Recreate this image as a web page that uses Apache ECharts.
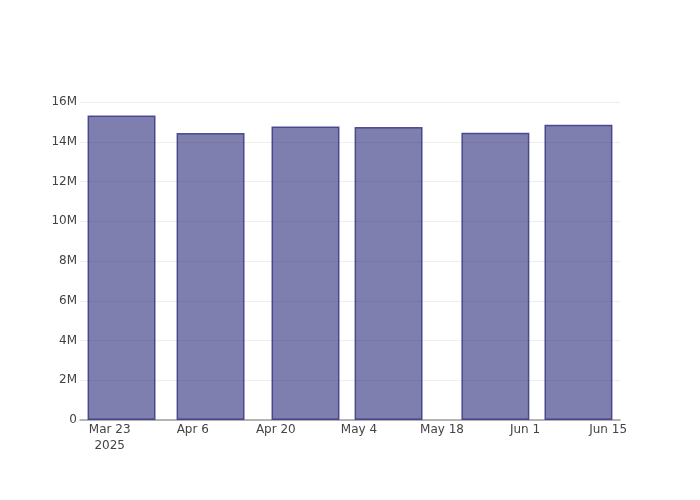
<!DOCTYPE html>
<html>
<head>
<meta charset="utf-8">
<script src="https://cdn.jsdelivr.net/npm/echarts@6/dist/echarts.min.js"></script>
<style>html,body{margin:0;padding:0;background:#fff}#c{width:700px;height:500px}</style>
</head>
<body>
<div id="c"></div>
<script>
// Data
const barDates = ['2025-03-25', '2025-04-09', '2025-04-25', '2025-05-09', '2025-05-27', '2025-06-10'];
const barValues = [15.32e6, 14.44e6, 14.77e6, 14.74e6, 14.45e6, 14.86e6];
const tickDates = ['2025-03-23', '2025-04-06', '2025-04-20', '2025-05-04', '2025-05-18', '2025-06-01', '2025-06-15'];
const yTicks = [0, 2e6, 4e6, 6e6, 8e6, 10e6, 12e6, 14e6, 16e6];

const DAY = 86400000;
const MONTHS = ['Jan','Feb','Mar','Apr','May','Jun','Jul','Aug','Sep','Oct','Nov','Dec'];
const toMs = s => Date.parse(s + 'T00:00:00Z');

const xs = barDates.map(toMs);
let minGap = Infinity;
for (let i = 1; i < xs.length; i++) minGap = Math.min(minGap, xs[i] - xs[i - 1]);
const xMin = xs[0] - minGap / 2;
const xMax = xs[xs.length - 1] + minGap / 2;
const tickMs = tickDates.map(toMs);

const gridLeft = 80, gridRight = 80, gridTop = 102, gridBottom = 80;
const gridW = 700 - gridLeft - gridRight;
const borderW = 1.5;
const barW = gridW * (0.8 * minGap) / (xMax - xMin) + borderW;

const font = 'DejaVu Sans, Verdana, sans-serif';

const chart = echarts.init(document.getElementById('c'), null, {renderer: 'canvas'});
chart.setOption({
  backgroundColor: '#fff',
  animation: false,
  grid: {left: gridLeft, right: gridRight, top: gridTop, bottom: gridBottom, containLabel: false},
  xAxis: {
    type: 'value',
    min: xMin,
    max: xMax,
    splitLine: {show: false},
    axisTick: {show: false, customValues: tickMs},
    axisLine: {show: true, onZero: false, lineStyle: {color: '#9e9e9e', width: 1.5}},
    axisLabel: {
      customValues: tickMs,
      color: '#444',
      fontFamily: font,
      fontSize: 12,
      margin: 2,
      lineHeight: 16,
      formatter: function (v) {
        const d = new Date(v);
        let s = MONTHS[d.getUTCMonth()] + ' ' + d.getUTCDate();
        if (v === tickMs[0]) s += '\n' + d.getUTCFullYear();
        return s;
      }
    }
  },
  yAxis: {
    type: 'value',
    min: yTicks[0],
    max: yTicks[yTicks.length - 1],
    interval: yTicks[1] - yTicks[0],
    axisLine: {show: false},
    axisTick: {show: false},
    splitLine: {show: true, lineStyle: {color: '#eeeeee', width: 1}},
    axisLabel: {
      color: '#444',
      fontFamily: font,
      fontSize: 12,
      margin: 3,
      verticalAlign: 'middle',
      padding: [2, 0, 0, 0],
      formatter: v => v === 0 ? '0' : (v / 1e6) + 'M'
    }
  },
  series: [{
    type: 'bar',
    data: xs.map((x, i) => [x, barValues[i]]),
    barWidth: barW,
    itemStyle: {
      color: 'rgba(42,42,122,0.6)',
      borderColor: 'rgba(55,55,130,0.85)',
      borderWidth: borderW
    },
    z: 3
  }]
});
</script>
</body>
</html>
